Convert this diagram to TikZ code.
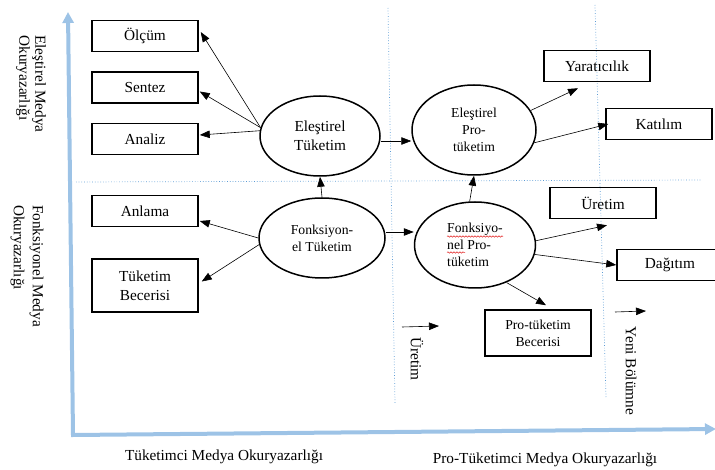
\documentclass[tikz,border=0pt]{standalone}
\usepackage{fontspec}
\setmainfont{Liberation Serif}
\usetikzlibrary{positioning, shapes.geometric, arrows.meta, decorations.pathmorphing}

\definecolor{AxisBlue}{RGB}{157,195,230}
\definecolor{GridBlue}{RGB}{91,155,213}
\definecolor{SpellRed}{RGB}{225,30,30}

\newcommand{\bigtext}{\fontsize{15.3}{19}\selectfont}
\newcommand{\smalltext}{\fontsize{13.7}{16.8}\selectfont}

\begin{document}
\begin{tikzpicture}[x=1pt, y=-1pt, node distance=19pt,
  every node/.style={font=\bigtext, align=center, inner sep=1pt},
  box/.style={draw, line width=1.5pt, rectangle, minimum width=106pt, minimum height=31pt},
  oval/.style={draw, line width=1.5pt, ellipse, inner sep=0pt},
  link/.style={-{Triangle[length=10pt, width=7.5pt]}, line width=0.6pt},
  axis/.style={AxisBlue, line width=4pt, {Triangle[length=11pt, width=11pt]}-{Triangle[length=11pt, width=11pt]}},
  grid/.style={GridBlue, dotted, line width=0.7pt}]
  \useasboundingbox (0,0) rectangle (715,470);

  % Axes and grid
  \coordinate (YTop) at (68,12);
  \coordinate (Origin) at (73,435);
  \coordinate (XEnd) at (716,429);
  \draw[axis] (YTop) -- (Origin) -- (XEnd);
  \coordinate (MidLeft) at (76,182);
  \coordinate (MidRight) at (702,180);
  \coordinate (ProdTop) at (388,8);
  \coordinate (ProdBottom) at (395,403);
  \coordinate (NewTop) at (595,5);
  \coordinate (NewBottom) at (606,397);
  \draw[grid] (MidLeft) -- (MidRight);
  \draw[grid] (ProdTop) -- (ProdBottom);
  \draw[grid] (NewTop) -- (NewBottom);

  % Entities
  \node[box] (Olcum) at (145,36) {Ölçüm};
  \node[box] (Sentez) [below=of Olcum] {Sentez};
  \node[box] (Analiz) [below=of Sentez] {Analiz};
  \node[box] (Anlama) at (145,211) {Anlama};
  \node[box, minimum height=53pt] (TuketimBeceri) [below=31pt of Anlama] {Tüketim\\Becerisi};
  \node[box] (Yaraticilik) at (597,66) {Yaratıcılık};
  \node[box] (Katilim) at (659,124) {Katılım};
  \node[box] (Uretim) at (603,203) {Üretim};
  \node[box] (Dagitim) at (670,265) {Dağıtım};
  \node[box, minimum height=46pt, font=\smalltext] (ProBeceri) at (538,333) {Pro-tüketim\\Becerisi};

  \node[oval, minimum width=120pt, minimum height=80pt] (ElestirelTuketim) at (320,136) {Eleştirel\\Tüketim};
  \node[oval, minimum width=124pt, minimum height=90pt, font=\smalltext] (ElestirelPro) at (474,130) {Eleştirel\\Pro-\\tüketim};
  \node[oval, minimum width=126pt, minimum height=80pt, font=\smalltext] (FonksiyonelTuketim) at (322,238) {Fonksiyon-\\el Tüketim};
  \node[oval, minimum width=121pt, minimum height=86pt, font=\smalltext, align=left] (FonksiyonelPro) at (475,245) {Fonksiyo-\\nel Pro-\\tüketim};

  % Spell-check marks
  \draw[SpellRed, line width=0.5pt, decorate, decoration={snake, amplitude=0.7pt, segment length=3pt}] (447,236.5) -- (503,236.5);
  \draw[SpellRed, line width=0.5pt, decorate, decoration={snake, amplitude=0.7pt, segment length=3pt}] (447,252.5) -- (465,252.5);

  % Axis labels
  \node[rotate=-90, align=left] (CriticalLabel) at (31,84) {Eleştirel Medya\\[-3pt]Okuryazarlığı};
  \node[rotate=-90, align=left] (FunctionalLabel) at (27,266) {Fonksiyonel Medya\\Okuryazarlığı};
  \node (ConsumerLabel) at (224,457) {Tüketimci Medya Okuryazarlığı};
  \node (ProsumerLabel) at (545,460) {Pro-Tüketimci Medya Okuryazarlığı};
  \node[rotate=-90] (ProdLabel) at (417,359) {Üretim};
  \node[rotate=-90] (NewLabel) at (631,371) {Yeni Bölümne};

  % Relationships
  \draw[link] (ElestirelTuketim.172) -- ([xshift=2pt, yshift=4pt]Olcum.east);
  \draw[link] (ElestirelTuketim.172) -- ([xshift=1pt, yshift=-4pt]Sentez.east);
  \draw[link] (ElestirelTuketim.175) -- ([xshift=1pt, yshift=4pt]Analiz.east);
  \draw[link] (FonksiyonelTuketim.west) -- ([xshift=1pt, yshift=-10pt]Anlama.east);
  \draw[link] (FonksiyonelTuketim.186) -- ([xshift=3pt, yshift=4pt]TuketimBeceri.east);
  \draw[link] (FonksiyonelTuketim.north) -- (ElestirelTuketim.south);
  \draw[link] ([yshift=-5pt]ElestirelTuketim.east) -- ([yshift=-11pt]ElestirelPro.west);
  \draw[link] ([yshift=6pt]FonksiyonelTuketim.east) -- ([yshift=13pt]FonksiyonelPro.west);
  \draw[link] (FonksiyonelPro.97) -- (ElestirelPro.south);
  \draw[link] (ElestirelPro.19) -- ([xshift=-19pt, yshift=-6pt]Yaraticilik.south);
  \draw[link] (ElestirelPro.-12) -- ([xshift=3pt]Katilim.west);
  \draw[link] (FonksiyonelPro.4) -- ([xshift=4pt, yshift=-6pt]Uretim.south);
  \draw[link] (FonksiyonelPro.-9) -- (Dagitim.west);
  \draw[link] (FonksiyonelPro.-50) -- ([xshift=8pt, yshift=4pt]ProBeceri.north);
  \coordinate (ProdTail) at (402,327);
  \coordinate (ProdHead) at (439,326);
  \coordinate (NewTail) at (615,312);
  \coordinate (NewHead) at (646,311);
  \draw[link] (ProdTail) -- (ProdHead);
  \draw[link] (NewTail) -- (NewHead);
\end{tikzpicture}
\end{document}
